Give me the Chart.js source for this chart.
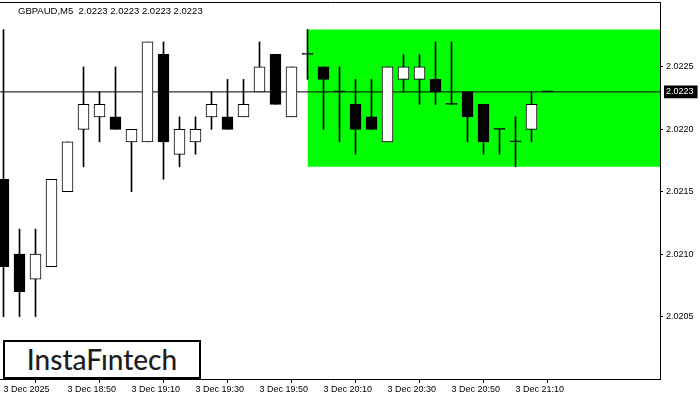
<!DOCTYPE html>
<html><head><meta charset="utf-8">
<script src="https://cdn.jsdelivr.net/npm/chart.js@4.4.0/dist/chart.umd.min.js"></script>
<style>
html,body{margin:0;padding:0;background:#fff;}
#wrap{position:relative;width:700px;height:400px;overflow:hidden;}
#c{position:absolute;left:0;top:0;}
#title{position:absolute;left:18px;top:5px;font:9.5px "Liberation Sans",Arial,sans-serif;color:#000;white-space:pre;}
#logo{position:absolute;left:3px;top:340px;width:194px;height:35px;border:2px solid #000;background:#fff;font:500 28px Lato,sans-serif;color:#1d1d1d;text-align:center;line-height:35px;}
</style></head><body>
<div id="wrap"><canvas id="c" width="700" height="400"></canvas>
<div id="title">GBPAUD,M5  2.0223 2.0223 2.0223 2.0223</div>
<div id="logo">InstaFıntech</div></div>
<script>
const times = ['18:30','18:35','18:40','18:45','18:50','18:55','19:00','19:05','19:10','19:15','19:20','19:25',
  '19:30','19:35','19:40','19:45','19:50','19:55','20:00','20:05','20:10','20:15','20:20','20:25',
  '20:30','20:35','20:40','20:45','20:50','20:55','21:00','21:05','21:10','21:15','21:20'];
const opens  = [2.02160,2.02100,2.02080,2.02090,2.02150,2.02200,2.02210,2.02210,2.02190,2.02190,2.02260,2.02180,
  2.02190,2.02210,2.02210,2.02210,2.02230,2.02260,2.02210,2.02260,2.02250,2.02230,2.02220,2.02210,
  2.02190,2.02240,2.02240,2.02240,2.02220,2.02230,2.02220,2.02200,2.02190,2.02200,2.02230];
const highs  = [2.02280,2.02120,2.02120,2.02160,2.02190,2.02250,2.02230,2.02250,2.02200,2.02270,2.02270,2.02210,
  2.02210,2.02230,2.02240,2.02240,2.02270,2.02260,2.02250,2.02280,2.02250,2.02250,2.02240,2.02240,
  2.02250,2.02260,2.02260,2.02270,2.02270,2.02230,2.02220,2.02200,2.02210,2.02230,2.02230];
const lows   = [2.02050,2.02050,2.02050,2.02090,2.02150,2.02170,2.02190,2.02200,2.02150,2.02190,2.02160,2.02170,
  2.02180,2.02200,2.02200,2.02210,2.02230,2.02220,2.02210,2.02240,2.02200,2.02190,2.02180,2.02200,
  2.02190,2.02230,2.02220,2.02220,2.02220,2.02190,2.02180,2.02180,2.02170,2.02190,2.02230];
const closes = [2.02090,2.02070,2.02100,2.02160,2.02190,2.02220,2.02220,2.02200,2.02200,2.02270,2.02190,2.02200,
  2.02200,2.02220,2.02200,2.02220,2.02250,2.02220,2.02250,2.02260,2.02240,2.02230,2.02200,2.02200,
  2.02250,2.02250,2.02250,2.02230,2.02220,2.02210,2.02190,2.02200,2.02190,2.02220,2.02230];
const xTickTimes  = ['18:30','18:50','19:10','19:30','19:50','20:10','20:30','20:50','21:10'];
const xTickLabels = ['3 Dec 2025','3 Dec 18:50','3 Dec 19:10','3 Dec 19:30','3 Dec 19:50','3 Dec 20:10','3 Dec 20:30','3 Dec 20:50','3 Dec 21:10'];
const yTicks = [2.0205, 2.0210, 2.0215, 2.0220, 2.0225];
const currentPrice = 2.0223;
const boxStart = '20:05';
const boxTop = 2.0228;
const boxBottom = 2.0217;

const X_MIN = -0.21875, X_MAX = 41.03125;
const Y_MIN = 2.0200, Y_MAX = 2.02302;
const xTickPos = xTickTimes.map(t => times.indexOf(t));

Chart.defaults.font.family = '"Liberation Sans", Arial, sans-serif';
Chart.defaults.font.size = 9;
Chart.defaults.color = '#000';

const noPad = s => { s.paddingTop = 0; s.paddingBottom = 0; s.paddingLeft = 0; s.paddingRight = 0; };

new Chart(document.getElementById('c'), {
  type: 'bar',
  data: {
    datasets: [
      {
        type: 'line', order: 10,
        data: [{x: times.indexOf(boxStart), y: boxTop}, {x: X_MAX + 1, y: boxTop}],
        fill: {value: boxBottom}, backgroundColor: '#00ff00', borderWidth: 0, pointRadius: 0
      },
      {
        type: 'line', order: 8,
        data: [{x: X_MIN - 1, y: currentPrice}, {x: X_MAX + 1, y: currentPrice}],
        borderColor: '#000', borderWidth: 1, pointRadius: 0, fill: false
      },
      {
        order: 5, grouped: false, barThickness: 1,
        data: highs.map((h, i) => ({x: i, y: [lows[i], h]})),
        backgroundColor: '#000', borderWidth: 0
      },
      {
        order: 1, grouped: false, barThickness: 11, minBarLength: 1, borderSkipped: false,
        data: opens.map((o, i) => ({x: i, y: [Math.min(o, closes[i]), Math.max(o, closes[i])]})),
        backgroundColor: ctx => (closes[ctx.dataIndex] > opens[ctx.dataIndex] ? '#ffffff' : '#000000'),
        borderColor: '#000', borderWidth: 1
      }
    ]
  },
  options: {
    responsive: false, animation: false,
    layout: {padding: 0},
    plugins: {legend: {display: false}, tooltip: {enabled: false}, title: {display: false}},
    scales: {
      x: {
        type: 'linear', min: X_MIN, max: X_MAX, offset: false,
        afterBuildTicks: s => { s.ticks = xTickPos.map(v => ({value: v})); },
        afterFit: s => { s.height = 21; noPad(s); },
        ticks: {autoSkip: false, maxRotation: 0, align: 'start', padding: 1,
          callback: v => xTickLabels[xTickPos.indexOf(v)]},
        grid: {drawOnChartArea: false, drawTicks: true, tickLength: 4, color: '#000'},
        border: {display: true, color: '#000', width: 1}
      },
      xTop: {
        type: 'linear', position: 'top', min: X_MIN, max: X_MAX,
        afterFit: s => { s.height = 2; noPad(s); },
        ticks: {display: false},
        grid: {display: false, drawTicks: false},
        border: {display: true, color: '#000', width: 1}
      },
      y: {
        type: 'linear', position: 'right', min: Y_MIN, max: Y_MAX,
        afterBuildTicks: s => { s.ticks = yTicks.concat([currentPrice]).sort((a, b) => a - b).map(v => ({value: v})); },
        afterFit: s => { s.width = 40; noPad(s); },
        ticks: {
          autoSkip: false, padding: 3,
          callback: v => v.toFixed(4),
          color: ctx => (ctx.tick && ctx.tick.value === currentPrice ? '#fff' : '#000'),
          showLabelBackdrop: ctx => !!(ctx.tick && ctx.tick.value === currentPrice),
          backdropColor: '#000',
          backdropPadding: {top: 1, bottom: 1, left: 2, right: 4}
        },
        grid: {drawOnChartArea: false, drawTicks: true, tickLength: 3,
          tickColor: ctx => (ctx.tick && ctx.tick.value === currentPrice ? 'rgba(0,0,0,0)' : '#000')},
        border: {display: true, color: '#000', width: 1}
      }
    }
  }
});
</script>
</body></html>
